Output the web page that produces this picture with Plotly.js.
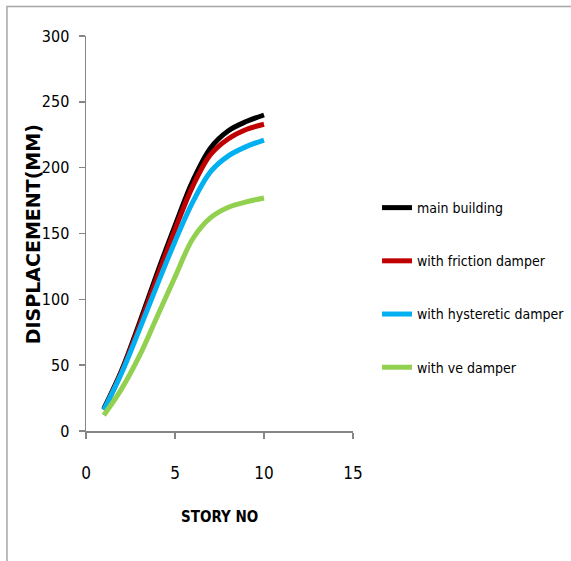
<!DOCTYPE html>
<html>
<head>
<meta charset="utf-8">
<script src="https://cdn.plot.ly/plotly-3.0.1.min.js"></script>
<style>
  html, body { margin: 0; padding: 0; background: #ffffff; }
  #chart { width: 571px; height: 561px; }
</style>
</head>
<body>
<div id="chart"></div>
<script>
// Data
const stories = [1, 2, 3, 4, 5, 6, 7, 8, 9, 10];
const mainBuilding = [17, 46, 82, 120, 156, 190, 215, 228, 235, 240];
const frictionDamper = [16, 45, 80, 117, 153, 186, 210, 222, 229, 233];
const hystereticDamper = [16, 44, 77, 111, 144, 174, 197, 209, 216, 221];
const veDamper = [12, 32, 57, 87, 117, 146, 162, 170, 174, 177];

const seriesNames = ['main building', 'with friction damper', 'with hysteretic damper', 'with ve damper'];
const seriesColors = ['#000000', '#C00000', '#00B0F0', '#92D050'];
const seriesValues = [mainBuilding, frictionDamper, hystereticDamper, veDamper];

const xTicks = [0, 5, 10, 15];
const yTicks = [0, 50, 100, 150, 200, 250, 300];

const narrow = 'Liberation Sans Narrow, DejaVu Sans Condensed, Arial Narrow, sans-serif';

const traces = seriesValues.map((vals, i) => ({
  x: stories,
  y: vals,
  type: 'scatter',
  mode: 'lines',
  name: seriesNames[i],
  legendgroup: 'g' + i,
  line: { color: seriesColors[i], width: 5, shape: 'spline', smoothing: 1 },
  hoverinfo: 'x+y'
}));

const axisColor = '#868686';

const layout = {
  width: 571,
  height: 561,
  margin: { l: 86, r: 218, t: 36, b: 130, autoexpand: false },
  paper_bgcolor: '#ffffff',
  plot_bgcolor: '#ffffff',
  showlegend: true,
  legend: {
    x: 1.09, y: 0.605, xanchor: 'left', yanchor: 'top',
    traceorder: 'grouped',
    tracegroupgap: 32,
    font: { family: narrow, size: 14, color: '#000000' },
    bgcolor: 'rgba(0,0,0,0)'
  },
  xaxis: {
    range: [0, 15],
    tickvals: xTicks,
    ticktext: xTicks.map(String),
    showgrid: false,
    zeroline: false,
    showline: true,
    linecolor: axisColor,
    linewidth: 1.5,
    ticks: 'outside',
    ticklen: 6,
    tickwidth: 1.5,
    tickcolor: axisColor,
    ticklabelstandoff: 20,
    tickfont: { family: narrow, size: 17, color: '#000000' },
    fixedrange: true
  },
  yaxis: {
    range: [0, 300],
    tickvals: yTicks,
    ticktext: yTicks.map(String),
    showgrid: false,
    zeroline: false,
    showline: true,
    linecolor: axisColor,
    linewidth: 1.5,
    ticks: 'outside',
    ticklen: 6,
    tickwidth: 1.5,
    tickcolor: axisColor,
    ticklabelstandoff: 6,
    tickfont: { family: narrow, size: 16, color: '#000000' },
    fixedrange: true
  },
  annotations: [
    {
      text: '<b>DISPLACEMENT(MM)</b>',
      xref: 'paper', yref: 'paper',
      x: -0.2, y: 0.497,
      xanchor: 'center', yanchor: 'middle',
      textangle: -90,
      showarrow: false,
      font: { family: 'DejaVu Sans, Verdana, sans-serif', size: 19, color: '#000000' }
    },
    {
      text: '<b>STORY NO</b>',
      xref: 'paper', yref: 'paper',
      x: 0.5, y: -0.217,
      xanchor: 'center', yanchor: 'middle',
      showarrow: false,
      font: { family: narrow, size: 15, color: '#000000' }
    }
  ],
  shapes: [
    {
      type: 'rect', xref: 'paper', yref: 'paper',
      x0: -0.296, x1: 3, y0: -3, y1: 1.075,
      line: { color: '#a6a6a6', width: 1.5 },
      fillcolor: 'rgba(0,0,0,0)',
      layer: 'below'
    }
  ]
};

Plotly.newPlot('chart', traces, layout, { displayModeBar: false, staticPlot: true });
</script>
</body>
</html>
